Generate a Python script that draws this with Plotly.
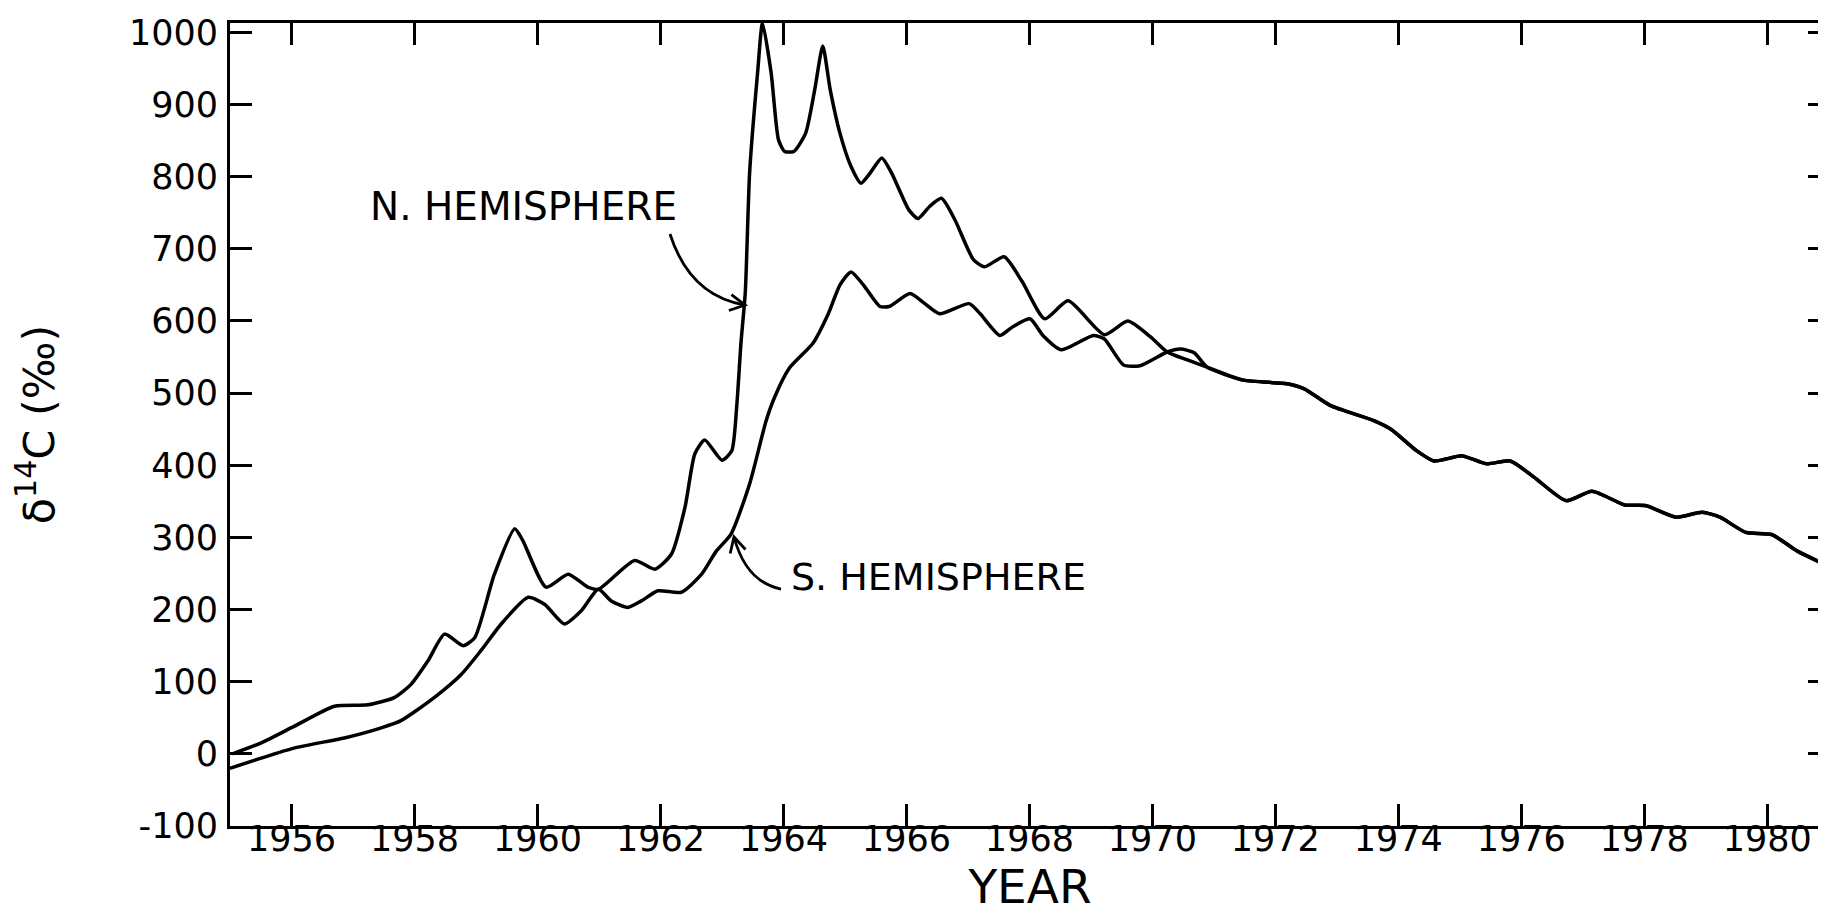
import math
import plotly.graph_objects as go

# Northern hemisphere delta-14C (per mil) vs year
nh_year = [1955.04, 1955.50, 1956.04, 1956.70, 1957.24, 1957.67, 1957.94, 1958.22, 1958.49,
           1958.79, 1958.98, 1959.30, 1959.63, 1959.76, 1960.14, 1960.50, 1960.82, 1960.99,
           1961.58, 1961.91, 1962.18, 1962.40, 1962.56, 1962.72, 1963.00, 1963.16, 1963.24,
           1963.31, 1963.38, 1963.45, 1963.58, 1963.66, 1963.80, 1963.92, 1964.02, 1964.17,
           1964.36, 1964.51, 1964.64, 1964.76, 1964.92, 1965.10, 1965.26, 1965.41, 1965.60,
           1965.76, 1966.04, 1966.19, 1966.38, 1966.57, 1966.79, 1967.09, 1967.27, 1967.59,
           1967.88, 1968.25, 1968.63, 1969.22, 1969.60, 1969.97, 1970.24, 1970.57, 1970.89,
           1971.48, 1972.19, 1972.47, 1972.89, 1973.60, 1973.88, 1974.30, 1974.58, 1975.04,
           1975.43, 1975.82, 1976.20, 1976.73, 1977.15, 1977.68, 1978.03, 1978.52, 1978.94,
           1979.23, 1979.65, 1980.07, 1980.49, 1981.00]
nh_value = [0, 15, 38, 66, 68, 78, 96, 129, 166,
            150, 161, 249, 312, 296, 231, 249, 231, 228,
            268, 256, 277, 342, 416, 435, 407, 420, 481,
            570, 640, 805, 944, 1013, 944, 851, 835, 835,
            860, 921, 981, 921, 860, 814, 791, 805, 826,
            805, 754, 742, 759, 770, 740, 685, 675, 689,
            655, 603, 628, 581, 600, 578, 557, 546, 536,
            518, 513, 506, 483, 462, 450, 420, 406, 413,
            402, 406, 384, 351, 364, 345, 344, 328, 335,
            328, 307, 304, 281, 260]

# Southern hemisphere delta-14C (per mil) vs year
sh_year = [1955.00, 1956.04, 1956.86, 1957.46, 1957.78, 1958.32, 1958.76, 1959.08, 1959.41,
           1959.85, 1960.12, 1960.44, 1960.71, 1960.99, 1961.20, 1961.47, 1961.69, 1961.96,
           1962.34, 1962.67, 1962.90, 1963.15, 1963.45, 1963.72, 1963.86, 1964.10, 1964.48,
           1964.73, 1964.92, 1965.10, 1965.30, 1965.57, 1965.72, 1966.06, 1966.30, 1966.54,
           1967.02, 1967.20, 1967.52, 1967.73, 1968.01, 1968.22, 1968.52, 1969.04, 1969.22,
           1969.53, 1969.80, 1970.24, 1970.46, 1970.68, 1970.89,
           1971.48, 1972.19, 1972.47, 1972.89, 1973.60, 1973.88, 1974.30, 1974.58, 1975.04,
           1975.43, 1975.82, 1976.20, 1976.73, 1977.15, 1977.68, 1978.03, 1978.52, 1978.94,
           1979.23, 1979.65, 1980.07, 1980.49, 1981.00]
sh_value = [-20, 8, 22, 36, 46, 78, 110, 143, 180,
            217, 207, 180, 198, 228, 212, 203, 212, 226,
            224, 249, 280, 305, 374, 462, 495, 535, 569,
            610, 650, 668, 650, 620, 620, 638, 624, 610,
            624, 610, 580, 592, 603, 580, 560, 580, 575,
            539, 538, 557, 561, 556, 536,
            518, 513, 506, 483, 462, 450, 420, 406, 413,
            402, 406, 384, 351, 364, 345, 344, 328, 335,
            328, 307, 304, 281, 260]

x_ticks = [1956, 1958, 1960, 1962, 1964, 1966, 1968, 1970, 1972, 1974, 1976, 1978, 1980]
y_ticks = [-100, 0, 100, 200, 300, 400, 500, 600, 700, 800, 900, 1000]

FONT = "DejaVu Sans"

# plot-area geometry in pixels (for placing the hand-drawn style labels/arrows)
L, R, T, B, W, H = 222, 4, 15, 99, 1826, 917
PW, PH = W - L - R, H - T - B


def px(x):
    return (x - L) / PW


def py(y):
    return (H - B - y) / PH


def curve_path(p0, c, p1):
    return "M {:.4f},{:.4f} Q {:.4f},{:.4f} {:.4f},{:.4f}".format(
        px(p0[0]), py(p0[1]), px(c[0]), py(c[1]), px(p1[0]), py(p1[1]))


def head_path(tip, ctrl, length=17, spread=28):
    dx, dy = tip[0] - ctrl[0], tip[1] - ctrl[1]
    ang = math.atan2(dy, dx)
    pts = []
    for s in (-1, 1):
        a = ang + math.pi + s * math.radians(spread)
        pts.append((tip[0] + length * math.cos(a), tip[1] + length * math.sin(a)))
    return "M {:.4f},{:.4f} L {:.4f},{:.4f} L {:.4f},{:.4f}".format(
        px(pts[0][0]), py(pts[0][1]), px(tip[0]), py(tip[1]), px(pts[1][0]), py(pts[1][1]))


fig = go.Figure()
fig.add_trace(go.Scatter(x=nh_year, y=nh_value, mode="lines", name="N. HEMISPHERE",
                         line=dict(color="black", width=3.5, shape="spline", smoothing=0.6)))
fig.add_trace(go.Scatter(x=sh_year, y=sh_value, mode="lines", name="S. HEMISPHERE",
                         line=dict(color="black", width=3.5, shape="spline", smoothing=0.6)))

axis_common = dict(showline=True, linecolor="black", linewidth=3, mirror="ticks",
                   ticks="inside", ticklen=22, tickwidth=3, tickcolor="black",
                   showgrid=False, zeroline=False,
                   tickfont=dict(family=FONT, size=35, color="black"))

fig.update_xaxes(range=[1955.0, 1981.02], tickvals=x_ticks,
                 ticktext=[str(v) for v in x_ticks], ticklabelstandoff=-20,
                 title=dict(text="YEAR", font=dict(family=FONT, size=47, color="black"), standoff=12),
                 **axis_common)
fig.update_yaxes(range=[-100, 1013], tickvals=y_ticks,
                 ticktext=[str(v) for v in y_ticks], ticklabelstandoff=2,
                 title=dict(text="δ<sup>14</sup>C (‰)", font=dict(family=FONT, size=43, color="black"),
                            standoff=64),
                 **axis_common)

# Curved leader lines with open arrow heads (pixel geometry converted to paper coords)
n_start, n_ctrl, n_tip = (662, 226), (682, 288), (737, 297)
s_start, s_ctrl, s_tip = (773, 581), (738, 574), (726, 529)
for p0, c, p1 in ((n_start, n_ctrl, n_tip), (s_start, s_ctrl, s_tip)):
    fig.add_shape(type="path", path=curve_path(p0, c, p1), xref="paper", yref="paper",
                  line=dict(color="black", width=2.8))
    fig.add_shape(type="path", path=head_path(p1, c), xref="paper", yref="paper",
                  line=dict(color="black", width=2.8))

# Text labels
fig.add_annotation(xref="paper", yref="paper", x=px(515), y=py(198),
                   text="N. HEMISPHERE", showarrow=False, xanchor="center", yanchor="middle",
                   font=dict(family=FONT, size=39, color="black"))
fig.add_annotation(xref="paper", yref="paper", x=px(930), y=py(569),
                   text="S. HEMISPHERE", showarrow=False, xanchor="center", yanchor="middle",
                   font=dict(family=FONT, size=38, color="black"))

fig.update_layout(width=W, height=H, showlegend=False,
                  paper_bgcolor="white", plot_bgcolor="white",
                  margin=dict(l=L, r=R, t=T, b=B, autoexpand=False))

fig.write_html("out.html")
